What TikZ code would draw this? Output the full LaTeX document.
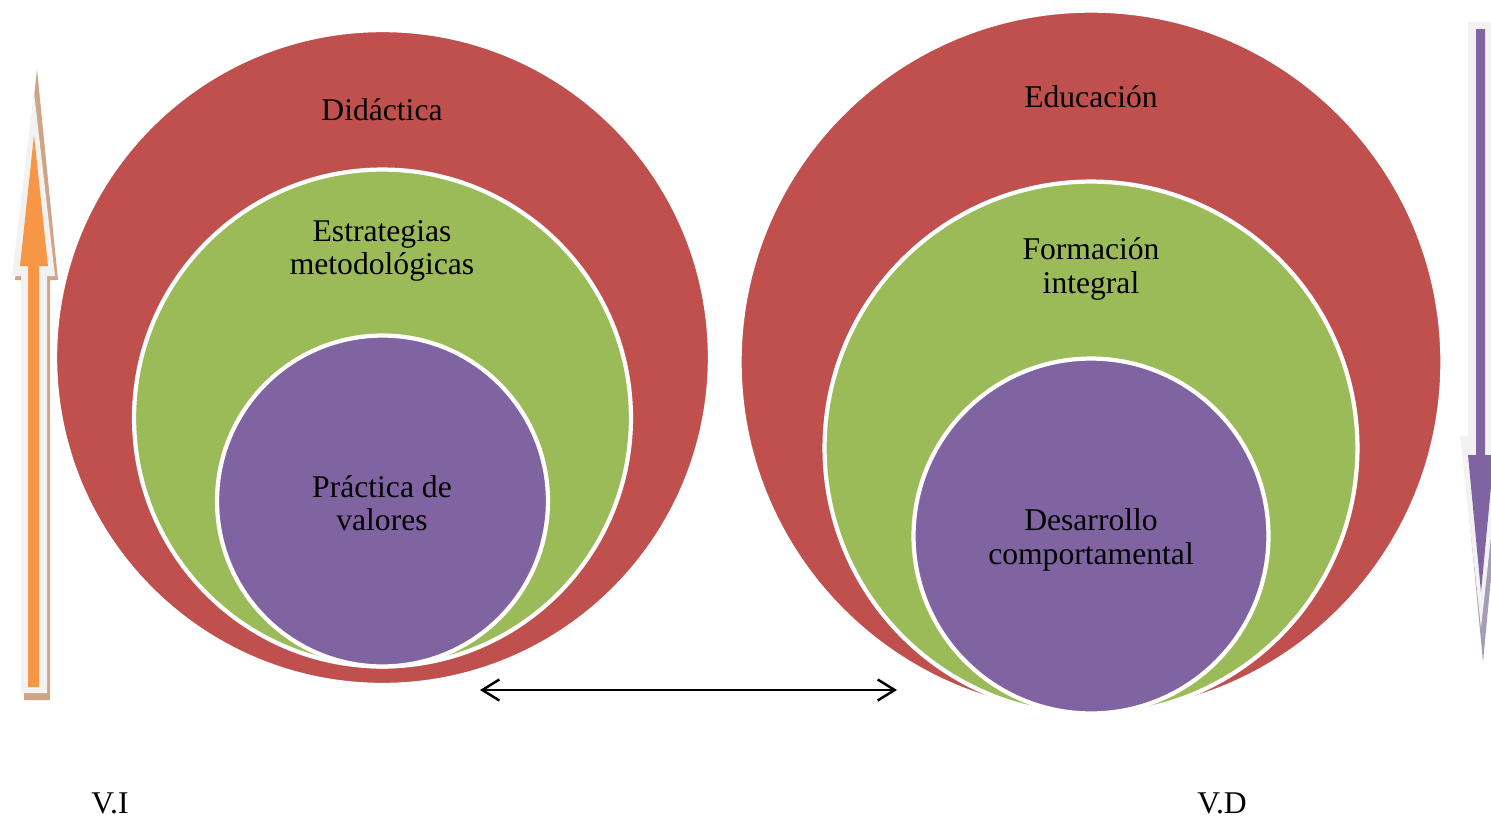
\documentclass[tikz,border=0pt]{standalone}
\usepackage{fontspec}
\setmainfont{Liberation Serif}
\usepackage{xcolor}
\usetikzlibrary{arrows.meta}
\definecolor{didred}{HTML}{C0504D}
\definecolor{estgreen}{HTML}{9BBB59}
\definecolor{valpurple}{HTML}{8064A2}
\definecolor{viorange}{HTML}{F79646}
\definecolor{arrowrim}{HTML}{F2F2F2}
\definecolor{vishadow}{HTML}{CFA587}
\definecolor{vdshadow}{HTML}{A59CB5}

\begin{document}
\begin{tikzpicture}[x=0.02cm, y=-0.02cm,
  disc/.style={circle, draw=white, line width=2.4pt, inner sep=0pt},
  lbl/.style={align=center, font=\fontsize{18}{19}\selectfont, inner sep=0pt}]
  \useasboundingbox (0,0) rectangle (1491,819);
  \clip (0,0) rectangle (1491,819);
  % V.I arrow
  \fill[vishadow] (37,69) -- (58,280) -- (50,280) -- (50,700) -- (24,700) -- (24,280) -- (15,280) -- cycle;
  \fill[arrowrim] (34,92) -- (55,276) -- (47,276) -- (47,693) -- (21,693) -- (21,276) -- (12,276) -- cycle;
  \fill[viorange] (34,135) -- (48,266) -- (39,266) -- (39,687) -- (28,687) -- (28,266) -- (20,266) -- cycle;
  % V.D arrow
  \fill[vdshadow] (1483,662) -- (1504,440) -- (1494,440) -- (1494,25) -- (1470,25) -- (1470,440) -- (1462,440) -- cycle;
  \fill[arrowrim] (1481,628) -- (1460,436) -- (1468,436) -- (1468,22) -- (1494,22) -- (1494,436) -- (1502,436) -- cycle;
  \fill[valpurple] (1481,592) -- (1468,455) -- (1476,455) -- (1476,29) -- (1485,29) -- (1485,455) -- (1494,455) -- cycle;
  % left circles
  \node (didactica) at (382.5,357.5) [disc, fill=didred, minimum size=13.1cm] {};
  \node (estrategias) at (382.5,418) [disc, fill=estgreen, minimum size=9.94cm] {};
  \node (valores) at (382.5,501) [disc, fill=valpurple, minimum size=6.62cm] {};
  % right circles
  \node (educacion) at (1091,362) [disc, fill=didred, minimum size=14.06cm] {};
  \node (formacion) at (1091,448) [disc, fill=estgreen, minimum size=10.66cm] {};
  \node (desarrollo) at (1091,536) [disc, fill=valpurple, minimum size=7.1cm] {};
  % texts
  \node (tdid) at (382,110) [lbl] {Didáctica};
  \node (test) at (382,251) [lbl] {Estrategias\\metodológicas};
  \node (tval) at (382,503) [lbl] {Práctica de\\valores};
  \node (tedu) at (1091,97) [lbl] {Educación};
  \node (tfor) at (1091,269) [lbl] {Formación\\integral};
  \node (tdes) at (1091,540) [lbl] {Desarrollo\\comportamental};
  \node (vi) at (110,803) [lbl] {V.I};
  \node (vd) at (1222,803) [lbl] {V.D};
  % relation
  \coordinate (relL) at (480,690);
  \coordinate (relR) at (897,690);
  \draw[{Straight Barb[length=0.34cm, width=0.42cm]}-{Straight Barb[length=0.34cm, width=0.42cm]}, line width=1.4pt] (relL) -- (relR);
\end{tikzpicture}
\end{document}
